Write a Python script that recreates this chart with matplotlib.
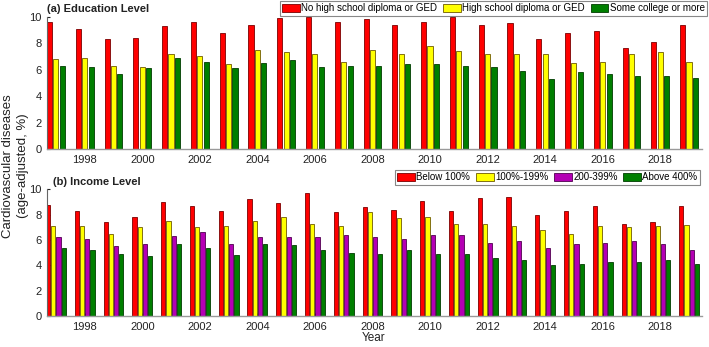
import matplotlib
matplotlib.use('Agg')
import matplotlib.pyplot as plt
import numpy as np

plt.rcParams['font.family'] = ['Liberation Sans', 'DejaVu Sans']

years = list(range(1997, 2020))

# (a) education level
edu_labels = ['No high school diploma or GED', 'High school diploma or GED', 'Some college or more']
edu_none = [9.6, 9.1, 8.3, 8.4, 9.3, 9.6, 8.8, 9.4, 9.9, 10.0, 9.6, 9.8,
            9.4, 9.6, 10.0, 9.4, 9.5, 8.3, 8.8, 8.9, 7.6, 8.1, 9.4]
edu_hs = [6.8, 6.9, 6.3, 6.2, 7.2, 7.0, 6.4, 7.5, 7.3, 7.2, 6.6, 7.5,
          7.2, 7.8, 7.4, 7.2, 7.2, 7.2, 6.5, 6.6, 7.2, 7.3, 6.6]
edu_college = [6.3, 6.2, 5.7, 6.1, 6.9, 6.6, 6.1, 6.5, 6.7, 6.2, 6.3, 6.3,
               6.4, 6.4, 6.3, 6.2, 5.9, 5.3, 5.8, 5.7, 5.5, 5.5, 5.4]

# (b) income level
inc_labels = ['Below 100%', '100%-199%', '200-399%', 'Above 400%']
inc_below100 = [8.8, 8.3, 7.4, 7.8, 9.0, 8.7, 8.3, 9.2, 8.9, 9.7, 8.2, 8.6,
                8.4, 9.1, 8.3, 9.3, 9.4, 8.0, 8.3, 8.7, 7.3, 7.4, 8.7]
inc_100_199 = [7.1, 7.1, 6.5, 7.0, 7.5, 7.0, 7.1, 7.5, 7.8, 7.3, 7.1, 8.2,
               7.7, 7.8, 7.3, 7.3, 7.1, 6.8, 6.5, 7.1, 7.0, 7.1, 7.2]
inc_200_399 = [6.2, 6.1, 5.5, 5.7, 6.3, 6.6, 5.7, 6.2, 6.2, 6.2, 6.4, 6.2,
               6.1, 6.4, 6.4, 5.8, 5.9, 5.4, 5.7, 5.8, 5.9, 5.7, 5.2]
inc_above400 = [5.4, 5.2, 4.9, 4.7, 5.7, 5.4, 4.8, 5.7, 5.6, 5.2, 5.0, 4.9,
                5.2, 4.9, 4.9, 4.6, 4.4, 4.0, 4.1, 4.3, 4.3, 4.4, 4.1]

faces = {'red': '#ff0000', 'yellow': '#ffff00', 'purple': '#b400b4', 'green': '#007f00'}
edges = {'red': '#7a0000', 'yellow': '#6e5a00', 'purple': '#500050', 'green': '#003c00'}


def grouped_bars(ax, series, labels, colors):
    n = len(series)
    group = min(0.8, n / (n + 1.5))
    slot = group / n
    x = np.array(years, dtype=float)
    for i, (vals, lab, c) in enumerate(zip(series, labels, colors)):
        off = -group / 2 + (i + 0.5) * slot
        ax.bar(x + off, vals, slot * 0.8, color=faces[c], edgecolor=edges[c],
               linewidth=0.6, label=lab, zorder=2)


def style(ax):
    ax.set_xlim(1996.69, 2019.45)
    ax.set_ylim(0, 10)
    ax.set_xticks(range(1998, 2019, 2))
    ax.set_yticks(range(0, 11, 2))
    ax.tick_params(direction='in', length=2.5, width=0.8, labelsize=8,
                   colors='#222222', pad=4)
    ax.tick_params(axis='x', pad=4.5)
    ax.spines['top'].set_visible(False)
    ax.spines['right'].set_visible(False)
    ax.spines['left'].set_color('#666666')
    ax.spines['bottom'].set_color('#9a9a9a')
    ax.spines['left'].set_linewidth(0.8)
    ax.spines['bottom'].set_linewidth(1.0)


fig = plt.figure(figsize=(7.09, 3.47), dpi=100)
ax1 = fig.add_axes([47 / 709, 1 - 149 / 347, 655 / 709, 132.3 / 347])
ax2 = fig.add_axes([47 / 709, 1 - 316 / 347, 655 / 709, 126.7 / 347])

grouped_bars(ax1, [edu_none, edu_hs, edu_college], edu_labels, ['red', 'yellow', 'green'])
grouped_bars(ax2, [inc_below100, inc_100_199, inc_200_399, inc_above400], inc_labels,
             ['red', 'yellow', 'purple', 'green'])
style(ax1)
style(ax2)

leg_kw = dict(ncol=4, fontsize=7, frameon=True, fancybox=False, framealpha=1,
              edgecolor='#888888', handlelength=1.8, handleheight=0.9,
              handletextpad=0.15, columnspacing=0.6, borderpad=0.25,
              borderaxespad=0)
l1 = ax1.legend(loc='upper right', bbox_to_anchor=(707 / 709, 1 - 1 / 347),
                bbox_transform=fig.transFigure, **leg_kw)
l1.get_frame().set_linewidth(0.8)
l2 = ax2.legend(loc='upper right', bbox_to_anchor=(700 / 709, 1 - 170 / 347),
                bbox_transform=fig.transFigure, **leg_kw)
l2.get_frame().set_linewidth(0.8)

fig.text(47 / 709, 1 - 9 / 347, '(a) Education Level', fontsize=8, fontweight='bold',
         ha='left', va='center', color='#222222')
fig.text(53 / 709, 1 - 182 / 347, '(b) Income Level', fontsize=8, fontweight='bold',
         ha='left', va='center', color='#222222')
fig.text(15.5 / 709, 1 - 166 / 347, 'Cardiovascular diseases\n(age-adjusted, %)',
         rotation=90, ha='center', va='center', fontsize=9.5, color='#222222',
         linespacing=1.25)
fig.text(374 / 709, 1 - 338 / 347, 'Year', ha='center', va='center', fontsize=8.5,
         color='#222222')

fig.savefig('out.png', dpi=100)
